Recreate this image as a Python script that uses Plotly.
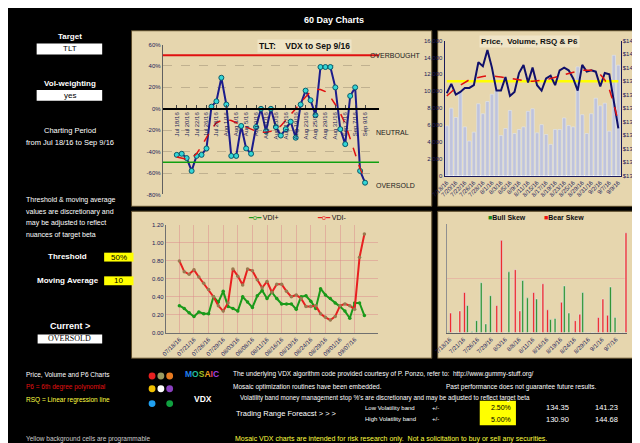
import plotly.graph_objects as go

# trading days Jul 18 - Sep 9 2016
days = ["7/18", "7/19", "7/20", "7/21", "7/22", "7/25", "7/26", "7/27", "7/28", "7/29",
        "8/1", "8/2", "8/3", "8/4", "8/5", "8/8", "8/9", "8/10", "8/11", "8/12",
        "8/15", "8/16", "8/17", "8/18", "8/19", "8/22", "8/23", "8/24", "8/25", "8/26",
        "8/29", "8/30", "8/31", "9/1", "9/2", "9/6", "9/7", "9/8", "9/9"]
mon = {"7": "Jul", "8": "Aug", "9": "Sep"}

vdx = [-43, -42, -46, -58, -44, -43, -37, 2, 7, 29, 4, -44, -44, -16, -37, -42, -17, 0, -21, 0,
       -17, -25, -19, -12, -27, 4, 17, 8, -6, 39, 39, 39, 20, -19, -33, 12, 20, -58, -69]
vdx_ma = [-45, -46, -47, -46, -42, -35, -27, -19, -13, -11, -10, -11, -13, -15, -17, -19, -21, -22, -22, -21,
          -19, -16, -11, -6, 0, 6, 11, 16, 18, 18, 16, 11, 4, -4, -14, -28, -42, -56, -66]

volume = [5900, 8000, 6900, 9960, 5780, 4100, 5160, 8520, 7340, 8790, 9650, 10040, 4770, 5590, 7730,
          5000, 5470, 5780, 7620, 7930, 5080, 6050, 4880, 3710, 5470, 5470, 6840, 5940, 5780, 12890,
          7230, 5000, 7340, 9180, 8280, 8590, 5270, 14260, 13090]
price = [138.1, 138.8, 138.0, 138.2, 138.5, 138.5, 138.7, 140.4, 140.1, 141.3, 140.0, 138.3, 138.3,
         139.3, 137.9, 138.2, 139.6, 140.2, 138.9, 140.0, 138.7, 138.3, 139.2, 139.4, 138.7, 139.8,
         140.0, 139.8, 139.2, 138.3, 140.2, 139.7, 139.8, 139.7, 138.6, 139.6, 139.5, 137.5, 135.5]
rsq = [139.0] * 39
p6 = [137.9, 138.2, 138.5, 138.7, 138.9, 139.1, 139.2, 139.3, 139.35, 139.4, 139.4, 139.35, 139.3,
      139.25, 139.2, 139.1, 139.05, 139.0, 139.0, 139.0, 139.0, 139.05, 139.1, 139.2, 139.3, 139.4,
      139.5, 139.6, 139.7, 139.75, 139.8, 139.8, 139.8, 139.7, 139.5, 139.1, 138.4, 137.3, 136.0]

vdi_plus = [0.30, 0.27, 0.22, 0.18, 0.23, 0.21, 0.21, 0.40, 0.34, 0.46,
            0.29, 0.27, 0.24, 0.40, 0.34, 0.28, 0.41, 0.47, 0.38, 0.45, 0.38, 0.32, 0.32, 0.32,
            0.26, 0.40, 0.41, 0.35, 0.27, 0.49, 0.42, 0.38, 0.33, 0.29, 0.24, 0.16, 0.33, 0.33, 0.19]
vdi_minus = [0.80, 0.68, 0.65, 0.70, 0.62, 0.55, 0.48, 0.40, 0.30, 0.24,
             0.33, 0.71, 0.63, 0.53, 0.71, 0.69, 0.59, 0.50, 0.57, 0.45, 0.54, 0.54, 0.46, 0.40,
             0.42, 0.38, 0.29, 0.29, 0.30, 0.21, 0.17, 0.14, 0.18, 0.30, 0.32, 0.30, 0.26, 0.84, 1.10]

bull = [0.01, 0, 0, 0, 0.25, 0.01, 0.11, 0.46, 0.08, 0.34, 0, 0, 0, 0.56, 0, 0, 0.48, 0.32, 0, 0.31,
        0, 0, 0.12, 0.13, 0, 0.43, 0.18, 0, 0, 0.37, 0, 0, 0, 0, 0, 0.42, 0.14, 0, 0]
bear = [0.18, 0, 0.20, 0.37, 0, 0, 0, 0, 0, 0, 0.25, 0.85, 0, 0, 0.58, 0.20, 0, 0, 0.37, 0,
        0.45, 0.21, 0, 0, 0.28, 0, 0, 0.11, 0.17, 0, 0, 0, 0.14, 0.31, 0.16, 0, 0, 0, 0.92]

W, H = 640, 443
def px(x): return x / W
def py(y): return 1 - y / H

FONT = "Liberation Sans, Arial, sans-serif"
NAVY = "#1a1a5a"
PANEL = "#e6d6ae"
PLOT = "#efe4c6"

fig = go.Figure()
lab_vdx = [mon[d.split("/")[0]] + " " + d.split("/")[1] + "/16" for d in days]
lab_us = [d + "/16" for d in days]
lab_vdi = ["%02d/%02d/16" % tuple(int(v) for v in d.split("/")) for d in days]

# VDX chart
fig.add_trace(go.Scatter(x=lab_vdx, y=vdx, mode="lines+markers", line=dict(color="#1c1c8c", width=2),
                         marker=dict(color="#33d6d6", size=5, line=dict(color="#0a5a6a", width=1)),
                         xaxis="x", yaxis="y"))
fig.add_trace(go.Scatter(x=lab_vdx, y=vdx_ma, mode="lines", line=dict(color="#e01010", width=1.5, dash="dash"),
                         xaxis="x", yaxis="y"))

# price / volume
fig.add_trace(go.Bar(x=lab_us, y=volume, marker=dict(color="#bfc3dc"), width=0.75, xaxis="x2", yaxis="y2"))
fig.add_trace(go.Scatter(x=lab_us, y=rsq, mode="lines", line=dict(color="#ffff00", width=2.5), xaxis="x2", yaxis="y5"))
fig.add_trace(go.Scatter(x=lab_us, y=price, mode="lines", line=dict(color="#10106a", width=2), xaxis="x2", yaxis="y5"))
fig.add_trace(go.Scatter(x=lab_us, y=p6, mode="lines", line=dict(color="#e01010", width=1.5, dash="dash"),
                         xaxis="x2", yaxis="y5"))

# VDI
fig.add_trace(go.Scatter(x=lab_vdi, y=vdi_plus, mode="lines+markers", name="VDI+",
                         line=dict(color="#1a9a1a", width=2), marker=dict(size=3.5, color="#1a9a1a"),
                         xaxis="x3", yaxis="y3"))
fig.add_trace(go.Scatter(x=lab_vdi, y=vdi_minus, mode="lines+markers", name="VDI-",
                         line=dict(color="#e82020", width=2), marker=dict(size=3.5, color="#9a7a50"),
                         xaxis="x3", yaxis="y3"))

# skew
fig.add_trace(go.Bar(x=lab_us, y=bull, marker=dict(color="#1a8a1a"), xaxis="x4", yaxis="y4"))
fig.add_trace(go.Bar(x=lab_us, y=bear, marker=dict(color="#f01010"), xaxis="x4", yaxis="y4"))

tick = dict(size=6, color=NAVY, family=FONT)
shapes = []
# panels
for x0, y0, x1, y1 in [(113, 20, 420, 198), (426, 20, 632, 198), (113, 203, 420, 352), (426, 203, 632, 352)]:
    shapes.append(dict(type="rect", xref="paper", yref="paper", x0=px(x0), x1=px(x1), y0=py(y1), y1=py(y0),
                       fillcolor=PANEL, line=dict(color="#5a4a2a", width=1), layer="below"))
# threshold lines in VDX
shapes.append(dict(type="line", xref="x domain", yref="y", x0=0, x1=1, y0=50, y1=50, line=dict(color="#e01010", width=2)))
shapes.append(dict(type="line", xref="x domain", yref="y", x0=0, x1=1, y0=-50, y1=-50, line=dict(color="#10a010", width=1.5)))

ann = []
def t(x, y, s, size=8, color="white", bold=False, xa="center", bg=None, fam=FONT):
    ann.append(dict(x=px(x), y=py(y), xref="paper", yref="paper", text=("<b>%s</b>" % s) if bold else s,
                    showarrow=False, xanchor=xa, yanchor="middle", bgcolor=bg,
                    font=dict(size=size, color=color, family=fam)))

def box(x0, y0, x1, y1, color):
    shapes.append(dict(type="rect", xref="paper", yref="paper", x0=px(x0), x1=px(x1), y0=py(y1), y1=py(y0),
                       fillcolor=color, line=dict(width=0)))

t(320, 9, "60 Day Charts", 9, bold=True)
t(50, 26, "Target", 8, bold=True)
box(16, 33, 83, 44, "white"); t(50, 38.5, "TLT", 8, "black")
t(50, 73, "Vol-weighting", 8, bold=True)
box(16, 80, 83, 91, "white"); t(50, 85.5, "yes", 8, "black")
t(50, 121, "Charting Period", 7.5)
t(50, 133, "from Jul 18/16 to Sep 9/16", 7.5)
for i, s in enumerate(["Threshold & moving average", "values are discretionary and",
                       "may be adjusted to reflect", "nuances of target beta"]):
    t(3, 192 + i * 11.7, s, 7, xa="left")
t(48, 249, "Threshold", 8, bold=True)
box(85, 245, 115, 254, "#ffff00"); t(100, 249.5, "50%", 8, "black")
t(48, 273, "Moving Average", 8, bold=True)
box(85, 269, 115, 278, "#ffff00"); t(100, 273.5, "10", 8, "black")
t(50, 319, "Current >", 9, bold=True)
box(17, 328, 83, 337, "white"); t(50, 332.5, "OVERSOLD", 8, "black", fam="Liberation Serif, serif")

t(3, 368, "Price, Volume and P6 Charts", 6.5, xa="left")
t(3, 381, "P6 = 6th degree polynomial", 6.5, "#e01010", xa="left")
t(3, 394, "RSQ = Linear regression line", 6.5, "#ffff40", xa="left")
t(3, 434, "Yellow background cells are programmable", 6.5, "#cccccc", xa="left")

dots = [(134, 370, "#e82020"), (143, 370, "#9a9a60"), (152, 370, "#e87a20"),
        (134, 383, "#f0c000"), (143, 383, "#ffffff"), (152, 383, "#8a40c0"),
        (134, 398, "#20a0f0"), (152, 398, "#10a040")]
for x, y, c in dots:
    shapes.append(dict(type="circle", xref="paper", yref="paper", x0=px(x - 3.5), x1=px(x + 3.5),
                       y0=py(y + 3.5), y1=py(y - 3.5), fillcolor=c, line=dict(width=0)))
letters = [("M", "#2080f0"), ("O", "#20c0a0"), ("S", "#a0c020"), ("A", "#f0a020"), ("I", "#e04060"), ("C", "#a040e0")]
t(185, 368, "".join('<span style="color:%s">%s</span>' % (c, l) for l, c in letters), 8.5, bold=True)
t(186, 393, "VDX", 8.5, bold=True)

t(215, 368, "The underlying VDX algorithm code provided courtesy of P. Ponzo, refer to:  http://www.gummy-stuff.org/", 6.5, xa="left")
t(215, 381, "Mosaic optimization routines have been embedded.", 6.5, xa="left")
t(432, 381, "Past performance does not guarantee future results.", 6.5, xa="left")
t(222, 392, "Volatility band money management stop %'s are discretionary and may be adjusted to reflect target beta", 6.3, xa="left")
t(218, 408, "Trading Range Foreacst > > >", 7.5, xa="left")
t(350, 402, "Low Volatility band", 6, xa="left")
t(350, 414, "High Volatility band", 6, xa="left")
t(418, 402, "+/-", 6, xa="left"); t(418, 414, "+/-", 6, xa="left")
box(469, 395, 506, 420, "#ffff00")
t(503, 402, "2.50%", 7, "black", xa="right"); t(503, 414, "5.00%", 7, "black", xa="right")
t(548, 402, "134.35", 7.5); t(548, 414, "130.90", 7.5)
t(599, 402, "141.23", 7.5); t(599, 414, "144.68", 7.5)
t(217, 434, "Mosaic VDX charts are intended for risk research only.  Not a solicitation to buy or sell any securities.",
  7, "#ffff40", xa="left")

# chart titles / labels
t(290, 35, "TLT:    VDX to Sep 9/16", 8.5, "#101010", bold=True, bg=PLOT)
t(383, 45, "OVERBOUGHT", 7, "#202020", bg=None)
t(380, 123, "NEUTRAL", 7, "#202020")
t(383, 177, "OVERSOLD", 7, "#202020")
t(520, 31, "Price,  Volume, RSQ & P6", 8, "#101010", bold=True, bg=PLOT)
t(248, 209, '<span style="color:#1a9a1a">━o━</span> VDI+', 7, "#101010")
t(318, 209, '<span style="color:#e82020">━o━</span> VDI-', 7, "#101010")
t(497, 209, '<span style="color:#1a8a1a">■</span>Bull Skew', 7, "#101010", bold=True)
t(555, 209, '<span style="color:#f01010">■</span>Bear Skew', 7, "#101010", bold=True)

vdx_y0, vdx_y1 = py(186), py(34)
vdx_zero = vdx_y0 + (vdx_y1 - vdx_y0) * 80 / 140

grid = "rgba(120,110,90,0.35)"
fig.update_layout(
    width=W, height=H, margin=dict(l=0, r=0, t=0, b=0),
    paper_bgcolor="black", plot_bgcolor=PLOT, showlegend=False, bargap=0.25,
    barmode="group", font=dict(family=FONT),
    shapes=shapes, annotations=ann,
    xaxis=dict(domain=[px(145), px(366)], anchor="free", position=vdx_zero, type="category",
               tickvals=lab_vdx[::2], tickangle=-90, tickfont=tick, ticks="inside", ticklen=3,
               showline=True, linecolor="black", linewidth=2, showgrid=False),
    yaxis=dict(domain=[vdx_y0, vdx_y1], range=[-80, 60], tickvals=list(range(-80, 61, 20)),
               ticktext=["%d%%" % v for v in range(-80, 61, 20)], tickfont=tick,
               showgrid=True, gridcolor=grid, griddash="dash", zeroline=False,
               showline=True, linecolor="#606060"),
    xaxis2=dict(domain=[px(433), px(613)], anchor="y2", type="category", tickvals=lab_us[::2],
                tickangle=-45, tickfont=tick, showgrid=False, showline=True, linecolor=NAVY),
    yaxis2=dict(domain=[py(167), py(30)], anchor="x2", range=[0, 16000], dtick=2000, tickformat=",",
                tickfont=tick, showgrid=False, showline=True, linecolor=NAVY),
    yaxis5=dict(overlaying="y2", side="right", anchor="x2", range=[132, 142], dtick=1, tickprefix="$",
                tickfont=tick, showgrid=False, showline=True, linecolor=NAVY),
    xaxis3=dict(domain=[px(148), px(365)], anchor="y3", type="category", tickvals=lab_vdi[::3],
                tickangle=-45, tickfont=tick, showgrid=True, gridcolor="rgba(220,140,140,0.5)",
                showline=True, linecolor="#707070"),
    yaxis3=dict(domain=[py(326), py(217)], anchor="x3", range=[0, 1.2], dtick=0.2, tickformat=".2f",
                tickfont=tick, showgrid=True, gridcolor="rgba(220,140,140,0.5)", zeroline=False,
                showline=True, linecolor="#707070"),
    xaxis4=dict(domain=[px(436), px(620)], anchor="y4", type="category", tickvals=lab_us[::3],
                tickangle=-45, tickfont=tick, showgrid=False, showline=True, linecolor="#606060"),
    yaxis4=dict(domain=[py(326), py(216)], anchor="x4", range=[0, 1.0], showticklabels=False,
                showgrid=True, gridcolor="rgba(230,150,150,0.45)", zeroline=False,
                showline=True, linecolor="#909090"),
)

fig.write_html("out.html")
